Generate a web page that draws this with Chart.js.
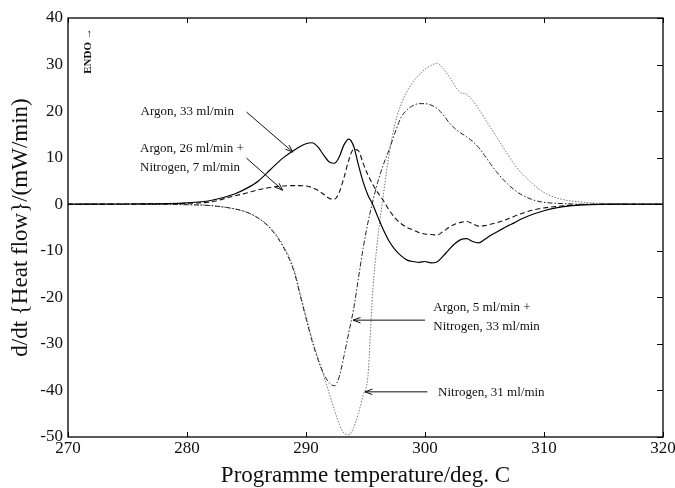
<!DOCTYPE html>
<html>
<head>
<meta charset="utf-8">
<script src="https://cdn.jsdelivr.net/npm/chart.js@4.4.1/dist/chart.umd.min.js"></script>
<style>
  html, body { margin: 0; padding: 0; background: #fff; }
  #wrap { width: 675px; height: 488px; }
</style>
</head>
<body>
<div id="wrap"><canvas id="chart"></canvas></div>
<script>
// programme temperature, deg. C
const temperature = [270, 275, 280, 282, 284, 285, 286, 287, 288, 289, 289.5, 290, 290.5, 291, 291.5,
  292, 292.4, 292.8, 293.2, 293.6, 294, 294.4, 294.8, 295.2, 295.6, 296, 296.5, 297, 297.5, 298,
  298.5, 299, 299.5, 300, 300.5, 301, 301.5, 302, 302.5, 303, 303.5, 304, 304.5, 305, 305.5,
  306, 306.5, 307, 307.5, 308, 309, 310, 311, 312, 313, 314, 316, 318, 320];

// d/dt {heat flow}, mW/min
const argon33 = [0, 0.05, 0.3, 0.8, 2.2, 3.4, 5, 7.4, 9.8, 11.6, 12.4, 13, 13.2, 12.3, 10.5,
  9, 8.8, 10.2, 12.8, 14, 12.5, 8.5, 4.8, 2, 0, -2.5, -5.5, -8, -9.8, -11.1,
  -12, -12.3, -12.5, -12.3, -12.6, -12.4, -11.2, -9.8, -8.5, -7.6, -7.4, -8, -8.3, -7.6, -6.7,
  -6, -5.3, -4.6, -4, -3.3, -2.2, -1.4, -0.8, -0.4, -0.2, -0.1, 0, 0, 0];

const argon26nitrogen7 = [0, 0.05, 0.2, 0.5, 1.8, 2.4, 3.1, 3.6, 3.9, 4, 4, 3.9, 3.6, 3, 2.1,
  1.2, 1.1, 2.6, 5.8, 9.5, 11.8, 11.5, 8.8, 6.3, 4.3, 2.6, 0.8, -1.3, -3, -4.2,
  -5, -5.5, -6.1, -6.4, -6.5, -6.6, -5.9, -5, -4.3, -3.9, -3.7, -4.2, -4.7, -4.6, -4.3,
  -4, -3.6, -3.1, -2.6, -2.1, -1.3, -0.8, -0.5, -0.25, -0.1, 0, 0, 0, 0];

const argon5nitrogen33 = [0, 0, -0.1, -0.3, -1, -1.7, -3, -5.2, -8.8, -14.5, -19.5, -24.5, -29.3, -33.3, -36.5,
  -38.5, -39, -37, -32.5, -27.5, -22.5, -16, -9.5, -4, 0.5, 4.5, 8.5, 11.8, 15.5, 18.7,
  20.3, 21.2, 21.6, 21.6, 21.3, 20.6, 19.3, 17.6, 16.3, 15.3, 14.5, 13.5, 12.2, 10.5, 8.7,
  7, 5.5, 4.2, 3.1, 2.2, 1, 0.4, 0.2, 0.1, 0, 0, 0, 0, 0];

const nitrogen31 = [0, 0, -0.1, -0.3, -1, -1.7, -3, -5, -8.5, -14, -19, -24, -28.8, -33, -37,
  -41, -44.3, -47.3, -49.2, -49.5, -48, -45, -41, -37, -19, -8, 2, 11, 17.5, 21.5,
  24.3, 26.3, 27.8, 29, 29.8, 30.3, 29.2, 27.5, 25.5, 24, 23.6, 22.3, 20.5, 18.5, 16.5,
  14.5, 12.5, 10.5, 8.6, 7, 4.5, 2.5, 1.4, 0.8, 0.5, 0.3, 0.1, 0, 0];

const xTicks = [270, 280, 290, 300, 310, 320];
const yTicks = [40, 30, 20, 10, 0, -10, -20, -30, -40, -50];

// labels drawn on the plot, placed in data units
const notes = [
  { lines: ["Argon, 33 ml/min"], at: [276.1, 19.8], from: [285.0, 19.8], to: [288.9, 11.2] },
  { lines: ["Argon, 26 ml/min +", "Nitrogen, 7 ml/min"], at: [276.05, 12.0], from: [285.0, 9.9], to: [288.05, 3.0] },
  { lines: ["Argon, 5 ml/min +", "Nitrogen, 33 ml/min"], at: [300.7, -22.3], from: [300.0, -24.9], to: [293.95, -24.9] },
  { lines: ["Nitrogen, 31 ml/min"], at: [301.1, -40.4], from: [300.2, -40.3], to: [294.95, -40.3] }
];

const serif = "'Liberation Serif', 'DejaVu Serif', serif";
const pts = vals => temperature.map((t, i) => ({ x: t, y: vals[i] }));

function arrow(ctx, x1, y1, x2, y2) {
  const a = Math.atan2(y2 - y1, x2 - x1);
  const h = 8;
  ctx.beginPath();
  ctx.moveTo(x1, y1);
  ctx.lineTo(x2, y2);
  ctx.moveTo(x2 - h * Math.cos(a - 0.35), y2 - h * Math.sin(a - 0.35));
  ctx.lineTo(x2, y2);
  ctx.lineTo(x2 - h * Math.cos(a + 0.35), y2 - h * Math.sin(a + 0.35));
  ctx.stroke();
}

const decor = {
  id: "decor",
  afterDraw(chart) {
    const { ctx, chartArea: a, scales: { x, y } } = chart;
    ctx.save();
    ctx.strokeStyle = "#000";
    ctx.lineWidth = 1.3;
    ctx.strokeRect(a.left, a.top, a.right - a.left, a.bottom - a.top);
    ctx.lineWidth = 1;
    ctx.beginPath();
    xTicks.forEach(t => {
      const px = Math.round(x.getPixelForValue(t)) + 0.5;
      ctx.moveTo(px, a.bottom); ctx.lineTo(px, a.bottom - 5);
      ctx.moveTo(px, a.top); ctx.lineTo(px, a.top + 5);
    });
    yTicks.forEach(v => {
      const py = Math.round(y.getPixelForValue(v)) + 0.5;
      ctx.moveTo(a.right, py); ctx.lineTo(a.right - 6, py);
    });
    ctx.stroke();

    ctx.fillStyle = "#111";
    ctx.strokeStyle = "#111";
    ctx.font = "13px " + serif;
    ctx.textAlign = "left";
    ctx.textBaseline = "middle";
    notes.forEach(n => {
      const tx = x.getPixelForValue(n.at[0]);
      const ty = y.getPixelForValue(n.at[1]);
      n.lines.forEach((s, i) => ctx.fillText(s, tx, ty + i * 19));
      arrow(ctx, x.getPixelForValue(n.from[0]), y.getPixelForValue(n.from[1]),
        x.getPixelForValue(n.to[0]), y.getPixelForValue(n.to[1]));
    });

    // ENDO marker
    ctx.translate(x.getPixelForValue(271.7), y.getPixelForValue(32.9));
    ctx.rotate(-Math.PI / 2);
    ctx.font = "bold 11px " + serif;
    ctx.textAlign = "center";
    ctx.fillText("ENDO \u2192", 0, 0);
    ctx.restore();
  }
};

new Chart(document.getElementById("chart"), {
  type: "line",
  data: {
    datasets: [
      { label: "Argon, 33 ml/min", data: pts(argon33), borderColor: "#000", borderWidth: 1.2 },
      { label: "Argon, 26 ml/min + Nitrogen, 7 ml/min", data: pts(argon26nitrogen7), borderColor: "#111",
        borderWidth: 1.1, borderDash: [5, 3] },
      { label: "Argon, 5 ml/min + Nitrogen, 33 ml/min", data: pts(argon5nitrogen33), borderColor: "#222",
        borderWidth: 1, borderDash: [5, 2, 1.5, 2] },
      { label: "Nitrogen, 31 ml/min", data: pts(nitrogen31), borderColor: "#777",
        borderWidth: 1, borderDash: [1.5, 1.5] }
    ]
  },
  options: {
    responsive: true,
    maintainAspectRatio: false,
    animation: false,
    devicePixelRatio: 1,
    elements: { point: { radius: 0 }, line: { cubicInterpolationMode: "monotone" } },
    layout: { padding: { top: 18, right: 12, left: 0, bottom: 0 } },
    plugins: { legend: { display: false }, tooltip: { enabled: false } },
    scales: {
      x: {
        type: "linear", min: 270, max: 320,
        afterBuildTicks: s => { s.ticks = xTicks.map(v => ({ value: v })); },
        afterFit: s => { s.height = 51; s.paddingLeft = 0; s.paddingRight = 0; },
        grid: { display: false, drawTicks: false },
        border: { display: false },
        ticks: { color: "#111", padding: 1, font: { family: serif, size: 17 } },
        title: { display: true, text: "Programme temperature/deg. C", color: "#111",
          font: { family: serif, size: 23 }, padding: { top: 0, bottom: -2 } }
      },
      y: {
        min: -50, max: 40,
        afterBuildTicks: s => { s.ticks = yTicks.map(v => ({ value: v })); },
        afterFit: s => { s.width = 68; s.paddingTop = 0; s.paddingBottom = 0; },
        grid: { display: false, drawTicks: false },
        border: { display: false },
        ticks: { color: "#111", padding: 5, font: { family: serif, size: 17 } },
        title: { display: true, text: "d/dt {Heat flow}/(mW/min)", color: "#111",
          font: { family: serif, size: 23 }, padding: { top: 7, bottom: 0 } }
      }
    }
  },
  plugins: [decor]
});
</script>
</body>
</html>
